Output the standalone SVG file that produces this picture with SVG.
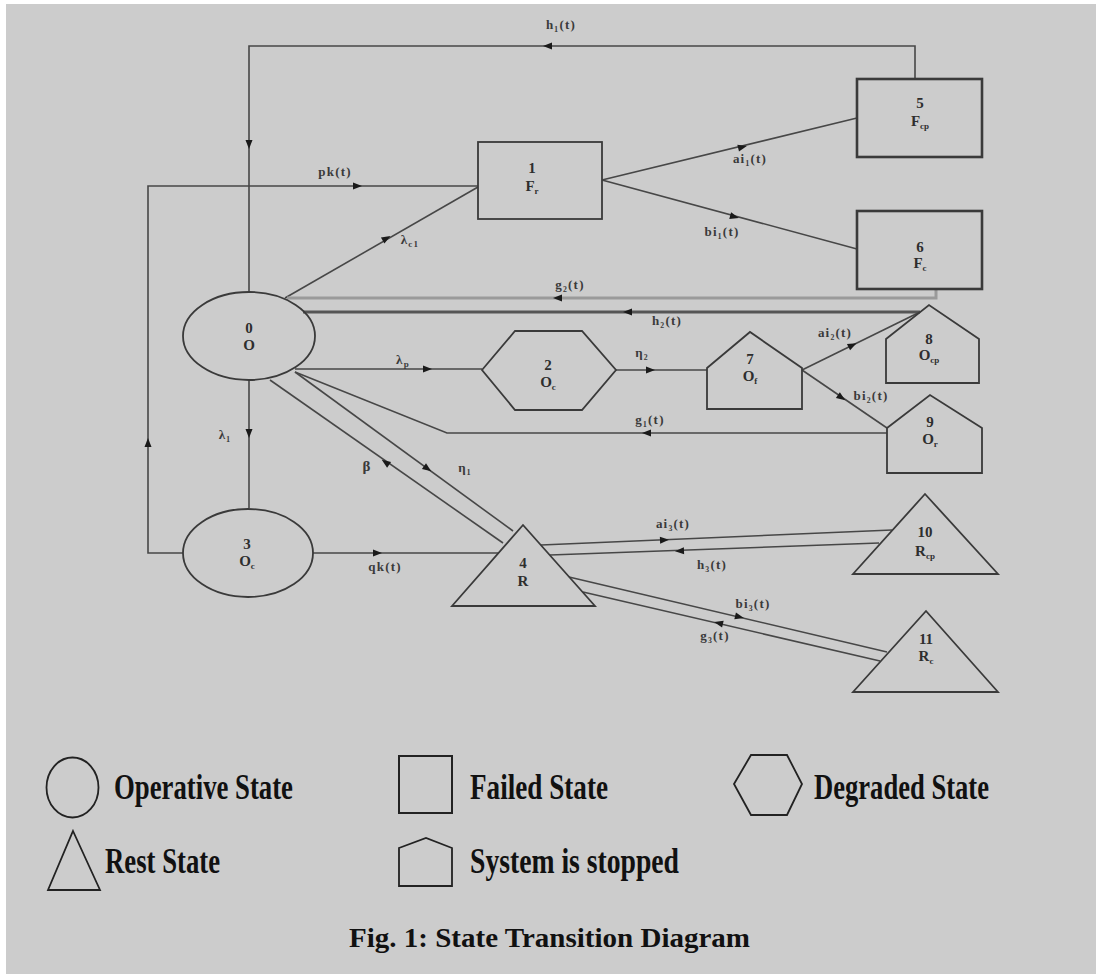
<svg xmlns="http://www.w3.org/2000/svg" width="1096" height="974" viewBox="0 0 1096 974">
<defs>
<path id="ah" d="M4,0 L-5,-3.5 L-5,3.5 Z" fill="#1a1a1a"/>
<style>
.ln{fill:none;stroke:#474747;stroke-width:1.6}
.nd{fill:none;stroke:#3a3a3a;stroke-width:1.8}
.nb{fill:none;stroke:#3a3a3a;stroke-width:2.6}
.lb{font-family:"Liberation Serif",serif;font-size:13px;fill:#3a3a3a;letter-spacing:1.2px;text-anchor:middle;font-weight:bold}
.nt{font-family:"Liberation Serif",serif;font-size:15px;fill:#2e2e2e;text-anchor:middle;font-weight:bold}
.sb{font-size:9px}
.lg{font-family:"Liberation Serif",serif;font-size:36px;fill:#111;font-weight:bold}
.ti{font-family:"Liberation Serif",serif;font-size:28px;font-weight:bold;fill:#111}
</style>
</defs>
<rect x="0" y="0" width="1096" height="974" fill="#ffffff"/>
<rect x="6" y="4" width="1090" height="970" fill="#cccccc"/>

<g id="connectors">
<path class="ln" d="M915,78 V46 H249 V292"/>
<path class="ln" d="M183,553 H148 V186 H478"/>
<path class="ln" d="M285,298 L478,187"/>
<path d="M936,289 V298 H287" fill="none" stroke="#9a9a9a" stroke-width="3"/>
<path d="M920,312 H303" fill="none" stroke="#555" stroke-width="3"/>
<path class="ln" d="M295,369 H482"/>
<path class="ln" d="M616,370 H707"/>
<path class="ln" d="M602,180 L857,118"/>
<path class="ln" d="M602,180 L857,249"/>
<path class="ln" d="M802,370 L920,312"/>
<path class="ln" d="M802,370 L887,428"/>
<path class="ln" d="M887,433 H447 L295,372"/>
<path class="ln" d="M249,380 V508"/>
<path class="ln" d="M295,372 L513,531"/>
<path class="ln" d="M270,380 L503,543"/>
<path class="ln" d="M313,553 H499"/>
<path class="ln" d="M541,545 L892,530"/>
<path class="ln" d="M550,555 L879,543"/>
<path class="ln" d="M569,577 L887,652"/>
<path class="ln" d="M583,592 L880,661"/>

<use href="#ah" transform="translate(547,46) rotate(180)"/>
<use href="#ah" transform="translate(249,145) rotate(90)"/>
<use href="#ah" transform="translate(358,186)"/>
<use href="#ah" transform="translate(387,238) rotate(-30)"/>
<use href="#ah" transform="translate(557,298) rotate(180)"/>
<use href="#ah" transform="translate(627,312) rotate(180)"/>
<use href="#ah" transform="translate(428,369)"/>
<use href="#ah" transform="translate(651,370)"/>
<use href="#ah" transform="translate(743,147) rotate(-13.7)"/>
<use href="#ah" transform="translate(735,217) rotate(15.1)"/>
<use href="#ah" transform="translate(853,345) rotate(-26.2)"/>
<use href="#ah" transform="translate(842,398) rotate(34.3)"/>
<use href="#ah" transform="translate(646,433) rotate(180)"/>
<use href="#ah" transform="translate(249,434) rotate(90)"/>
<use href="#ah" transform="translate(428,469) rotate(36.1)"/>
<use href="#ah" transform="translate(385,462) rotate(215)"/>
<use href="#ah" transform="translate(148,442) rotate(-90)"/>
<use href="#ah" transform="translate(378,553)"/>
<use href="#ah" transform="translate(665,540) rotate(-2.4)"/>
<use href="#ah" transform="translate(679,551) rotate(177.9)"/>
<use href="#ah" transform="translate(740,617) rotate(13.3)"/>
<use href="#ah" transform="translate(718,623) rotate(193.1)"/>

<text class="lb" x="561" y="29">h₁(t)</text>
<text class="lb" x="335" y="176">pk(t)</text>
<text class="lb" x="410" y="244">λ<tspan class="sb" dy="3">c1</tspan></text>
<text class="lb" x="570" y="289">g₂(t)</text>
<text class="lb" x="667" y="325">h₂(t)</text>
<text class="lb" x="403" y="364">λ<tspan class="sb" dy="3">p</tspan></text>
<text class="lb" x="642" y="357">η₂</text>
<text class="lb" x="750" y="163">ai₁(t)</text>
<text class="lb" x="722" y="236">bi₁(t)</text>
<text class="lb" x="835" y="337">ai₂(t)</text>
<text class="lb" x="871" y="400">bi₂(t)</text>
<text class="lb" x="650" y="424">g₁(t)</text>
<text class="lb" x="225" y="439">λ₁</text>
<text class="lb" x="367" y="471" style="font-size:15px">β</text>
<text class="lb" x="465" y="472">η₁</text>
<text class="lb" x="385" y="571">qk(t)</text>
<text class="lb" x="673" y="528">ai₃(t)</text>
<text class="lb" x="712" y="569">h₃(t)</text>
<text class="lb" x="753" y="608">bi₃(t)</text>
<text class="lb" x="715" y="640">g₃(t)</text>
</g>

<g id="node0">
<ellipse class="nd" cx="249" cy="336" rx="66" ry="44"/>
<text class="nt" x="249" y="333">0</text>
<text class="nt" x="249" y="350">O</text>
</g>
<g id="node1">
<rect class="nd" x="478" y="142" width="124" height="77"/>
<text class="nt" x="532" y="173">1</text>
<text class="nt" x="532" y="191">F<tspan class="sb" dy="3">r</tspan></text>
</g>
<g id="node2">
<polygon class="nd" points="482,370 515,331 582,331 616,370 582,410 515,410"/>
<text class="nt" x="548" y="370">2</text>
<text class="nt" x="548" y="387">O<tspan class="sb" dy="3">c</tspan></text>
</g>
<g id="node3">
<ellipse class="nd" cx="248" cy="553" rx="65" ry="44"/>
<text class="nt" x="247" y="549">3</text>
<text class="nt" x="247" y="566">O<tspan class="sb" dy="3">c</tspan></text>
</g>
<g id="node4">
<polygon class="nd" points="523,525 595,606 452,606"/>
<text class="nt" x="523" y="568">4</text>
<text class="nt" x="523" y="586">R</text>
</g>
<g id="node5">
<rect class="nb" x="857" y="79" width="125" height="78"/>
<text class="nt" x="920" y="108">5</text>
<text class="nt" x="920" y="126">F<tspan class="sb" dy="3">cp</tspan></text>
</g>
<g id="node6">
<rect class="nb" x="857" y="211" width="125" height="78"/>
<text class="nt" x="920" y="252">6</text>
<text class="nt" x="920" y="268">F<tspan class="sb" dy="3">c</tspan></text>
</g>
<g id="node7">
<polygon class="nd" points="707,368 750,332 802,368 802,409 707,409"/>
<text class="nt" x="750" y="364">7</text>
<text class="nt" x="750" y="381">O<tspan class="sb" dy="3">f</tspan></text>
</g>
<g id="node8">
<polygon class="nd" points="886,339 929,305 979,339 979,383 886,383"/>
<text class="nt" x="929" y="344">8</text>
<text class="nt" x="929" y="360">O<tspan class="sb" dy="3">cp</tspan></text>
</g>
<g id="node9">
<polygon class="nd" points="887,428 930,395 982,428 982,473 887,473"/>
<text class="nt" x="930" y="427">9</text>
<text class="nt" x="930" y="444">O<tspan class="sb" dy="3">r</tspan></text>
</g>
<g id="node10">
<polygon class="nd" points="925,494 998,574 853,574"/>
<text class="nt" x="925" y="537">10</text>
<text class="nt" x="925" y="556">R<tspan class="sb" dy="3">cp</tspan></text>
</g>
<g id="node11">
<polygon class="nd" points="926,611 998,692 853,692"/>
<text class="nt" x="926" y="644">11</text>
<text class="nt" x="926" y="661">R<tspan class="sb" dy="3">c</tspan></text>
</g>

<g id="legend">
<ellipse cx="72.5" cy="787.5" rx="26" ry="30" fill="none" stroke="#222" stroke-width="1.8"/>
<text class="lg" x="114" y="799" textLength="179" lengthAdjust="spacingAndGlyphs">Operative State</text>
<rect x="399" y="756" width="53" height="57" fill="none" stroke="#222" stroke-width="2"/>
<text class="lg" x="470" y="799" textLength="138" lengthAdjust="spacingAndGlyphs">Failed State</text>
<polygon points="734,784 751,755 787,755 802,784 787,815 751,815" fill="none" stroke="#222" stroke-width="1.8"/>
<text class="lg" x="814" y="799" textLength="175" lengthAdjust="spacingAndGlyphs">Degraded State</text>
<polygon points="73,831 100,890 48,890" fill="none" stroke="#222" stroke-width="1.8"/>
<text class="lg" x="105" y="873" textLength="115" lengthAdjust="spacingAndGlyphs">Rest State</text>
<polygon points="399,848 426,838 452,848 452,886 399,886" fill="none" stroke="#222" stroke-width="1.8"/>
<text class="lg" x="470" y="873" textLength="209" lengthAdjust="spacingAndGlyphs">System is stopped</text>
<text class="ti" x="349" y="947" textLength="401" lengthAdjust="spacingAndGlyphs">Fig. 1: State Transition Diagram</text>
</g>
</svg>
